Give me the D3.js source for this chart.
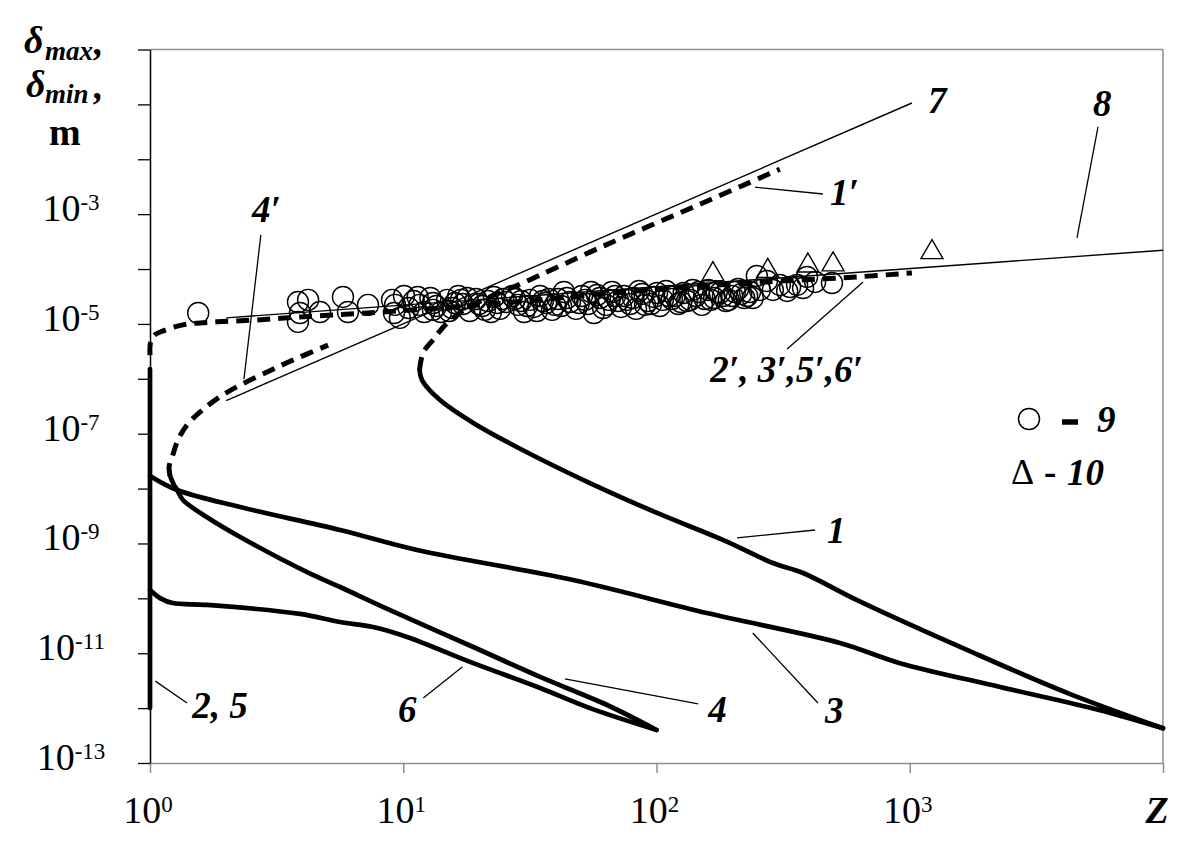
<!DOCTYPE html>
<html>
<head>
<meta charset="utf-8">
<script src="https://cdn.jsdelivr.net/npm/d3@7"></script>
<style>
  body { margin: 0; background: #fff; }
  svg { display: block; font-family: "Liberation Serif", "Times New Roman", serif; }
</style>
</head>
<body>
<svg id="chart" width="1200" height="855"></svg>
<script>
// --- data (Z, delta in m) ---
const xTicks = [1, 10, 100, 1000, 10000];
const yTicks = d3.range(-13, 1).map(e => Math.pow(10, e));
const yLabelExp = [-3, -5, -7, -9, -11, -13];

const line7Z = [2.0, 1020];
const line7D = [4.0e-7, 1.06e-1];
const line8Z = [2.0, 10000];
const line8D = [1.29e-5, 2.2e-4];

const curve1Z = [11.6, 11.86, 13.97, 18.9, 29.7, 54.6, 100.5, 183, 288, 379, 619, 1683, 4178, 10000];
const curve1D = [1.45e-6, 9.5e-7, 4.1e-7, 1.57e-7, 5.0e-8, 1.26e-8, 3.6e-9, 1.16e-9, 4.4e-10, 2.9e-10, 9.3e-11, 1.15e-11, 1.9e-12, 4.3e-13];
const curve1pZ = [11.6, 11.97, 13.1, 14.9, 17.85, 22.0, 29.7, 62.6, 150, 307];
const curve1pD = [1.45e-6, 2.96e-6, 5.1e-6, 1.04e-5, 1.95e-5, 3.1e-5, 5.6e-5, 2.7e-4, 1.55e-3, 6.6e-3];

const curve25Z = [1, 1];
const curve25D = [1e-12, 1.5e-6];

const curve3Z = [1.0, 1.28, 2.27, 5.63, 11.33, 46.8, 158, 530, 915, 2272, 5640, 10000];
const curve3D = [1.7e-8, 9.4e-9, 4.6e-9, 1.76e-9, 7.6e-10, 2.16e-10, 5.4e-11, 1.54e-11, 6.6e-12, 2.43e-12, 9.2e-13, 4.3e-13];

const curve4Z = [1.2, 1.24, 1.28, 1.35, 1.68, 2.27, 4.17, 5.63, 8.87, 18.9, 34.7, 63.8, 100];
const curve4D = [1.7e-8, 1.2e-8, 9.4e-9, 6.2e-9, 3.0e-9, 1.31e-9, 3.0e-10, 1.61e-10, 6.1e-11, 1.3e-11, 3.7e-12, 1.14e-12, 4.0e-13];
const curve4pZ = [1.2, 1.19, 1.23, 1.29, 1.40, 1.58, 1.86, 2.27, 2.90, 3.67, 5.05];
const curve4pD = [1.7e-8, 2.5e-8, 4.1e-8, 7.7e-8, 1.44e-7, 2.5e-7, 4.5e-7, 7.7e-7, 1.33e-6, 2.2e-6, 4.1e-6];

const curve6Z = [1.0, 1.1, 1.23, 1.68, 3.91, 5.63, 7.6, 10.35, 18.9, 34.7, 54.6, 100];
const curve6D = [1.42e-10, 1.0e-10, 8.2e-11, 7.6e-11, 5.2e-11, 3.7e-11, 3.0e-11, 1.98e-11, 6.6e-12, 2.33e-12, 1.0e-12, 4.0e-13];

const curve2pZ = [1.0, 1.005, 1.04, 1.12, 1.35, 1.84, 2.64, 3.9, 7.2, 15, 30, 60, 120, 250, 620, 1020];
const curve2pD = [2.7e-6, 4.6e-6, 6.2e-6, 7.4e-6, 9.6e-6, 1.09e-5, 1.18e-5, 1.34e-5, 1.58e-5, 2.0e-5, 2.6e-5, 3.5e-5, 4.5e-5, 5.7e-5, 7.2e-5, 8.5e-5];

// measured points, series 9 (circles) and 10 (triangles)
const circleZ = [1.55, 3.84, 4.21, 3.91, 4.69, 3.84, 5.78, 6.05, 7.26, 9.03, 9.19, 9.7, 10.07, 10.5, 11.0, 11.6, 12.1, 12.8, 13.5, 14.1,
  14.9, 15.6, 16.5, 17.2, 18.3, 19.4, 20.5, 21.6, 22.8, 24.1, 25.5, 26.9, 28.4, 30.0, 31.7, 32.8, 34.7, 36.6, 38.7, 40.8,
  43.1, 45.5, 48.1, 50.8, 53.6, 56.6, 59.8, 63.2, 66.7, 70.5, 74.4, 78.6, 83.0, 87.7, 92.6, 97.7, 103, 109, 115, 122,
  128, 136, 143, 151, 160, 169, 178, 188, 199, 210, 222, 234, 249, 273, 288, 337, 359, 379, 393, 493,
  9.28, 11.4, 13.1, 16.0, 17.9, 21.0, 23.5, 27.6, 30.8, 35.6, 39.7, 44.3, 52.2, 58.2, 64.9, 72.4, 80.8, 90.1, 100.5, 106,
  118, 132, 147, 164, 183, 204, 228, 256, 307, 423, 328,
  13.1, 15.2, 16.9, 19.9, 22.2, 24.8, 29.2, 33.7, 37.6, 42.0, 49.4, 55.1, 61.5, 68.6, 76.5, 85.3, 95.1, 112, 125, 139,
  155, 173, 193, 216, 240];
const circleD = [1.58e-5, 2.51e-5, 2.74e-5, 1.58e-5, 1.65e-5, 1.09e-5, 3.10e-5, 1.65e-5, 2.22e-5, 2.74e-5, 1.58e-5, 1.29e-5, 3.23e-5, 1.95e-5, 2.62e-5, 2.22e-5, 1.65e-5, 2.97e-5, 2.12e-5, 1.65e-5,
  2.74e-5, 1.95e-5, 3.23e-5, 2.31e-5, 1.72e-5, 2.85e-5, 2.12e-5, 2.62e-5, 3.10e-5, 1.88e-5, 2.51e-5, 3.23e-5, 2.22e-5, 1.65e-5, 2.74e-5, 2.04e-5, 3.23e-5, 2.41e-5, 1.80e-5, 2.85e-5,
  3.82e-5, 2.51e-5, 1.88e-5, 3.23e-5, 2.31e-5, 1.58e-5, 2.97e-5, 2.22e-5, 3.82e-5, 2.62e-5, 3.23e-5, 2.31e-5, 1.88e-5, 3.52e-5, 2.62e-5, 3.10e-5, 2.12e-5, 3.99e-5, 2.85e-5, 2.31e-5,
  3.66e-5, 2.74e-5, 3.23e-5, 2.22e-5, 4.16e-5, 2.97e-5, 3.66e-5, 2.62e-5, 3.23e-5, 4.33e-5, 2.97e-5, 3.82e-5, 7.48e-5, 6.07e-5, 4.16e-5, 4.71e-5, 5.13e-5, 4.52e-5, 7.18e-5, 5.57e-5,
  2.22e-5, 3.10e-5, 1.80e-5, 2.41e-5, 2.97e-5, 1.80e-5, 2.41e-5, 2.85e-5, 2.12e-5, 2.62e-5, 2.22e-5, 2.97e-5, 2.74e-5, 3.37e-5, 2.74e-5, 2.04e-5, 2.97e-5, 2.22e-5, 3.66e-5, 2.74e-5,
  3.23e-5, 2.62e-5, 3.82e-5, 2.74e-5, 3.23e-5, 3.82e-5, 3.23e-5, 4.16e-5, 5.13e-5, 5.82e-5, 3.99e-5,
  2.41e-5, 1.72e-5, 2.74e-5, 2.31e-5, 1.65e-5, 2.85e-5, 2.62e-5, 1.72e-5, 2.85e-5, 2.12e-5, 2.41e-5, 3.82e-5, 1.95e-5, 3.23e-5, 2.74e-5, 3.99e-5, 2.31e-5, 3.23e-5, 2.51e-5, 4.16e-5,
  2.85e-5, 3.82e-5, 2.74e-5, 3.52e-5, 2.97e-5];
const triZ = [167, 275, 396, 498, 1224];
const triD = [8.0e-5, 9.2e-5, 1.15e-4, 1.21e-4, 2.02e-4];

// curve labels and their leader lines, in data coordinates
const labelText = ["4\u2032", "7", "8", "1\u2032", "2\u2032, 3\u2032,5\u2032,6\u2032", "1", "3", "4", "6", "2, 5"];
const labelZ = [2.53, 1180, 5290, 484, 163, 471, 463, 160, 9.54, 1.47];
const labelD = [7.2e-4, 7.0e-2, 6.15e-2, 1.47e-3, 8.7e-7, 1.02e-9, 5.4e-13, 5.6e-13, 5.6e-13, 6.6e-13];
const leaders = [
  [[2.74, 4.2e-4], [2.35, 9.9e-7]],
  [[245, 3.1e-3], [454, 2.33e-3]],
  [[5538, 3.9e-2], [4575, 3.7e-4]],
  [[328, 3.5e-6], [654, 5.8e-5]],
  [[208, 1.26e-9], [423, 1.76e-9]],
  [[240, 2.34e-11], [434, 1.24e-12]],
  [[43.5, 3.4e-12], [146, 1.19e-12]],
  [[12.0, 1.53e-12], [17.1, 5.6e-12]],
  [[1.05, 3.1e-12], [1.40, 1.24e-12]]
];

// --- drawing ---
const svg = d3.select("#chart");
const frameColor = "#8e8e8e";

const x = d3.scaleLog().domain([1, 1e4]).range([150, 1163]);
const y = d3.scaleLog().domain([1e-13, 1]).range([763, 49.5]);

// top and right frame
svg.append("line")
    .attr("x1", x(1)).attr("x2", x(1e4))
    .attr("y1", y(1)).attr("y2", y(1))
    .attr("stroke", frameColor).attr("stroke-width", 1.5);
svg.append("line")
    .attr("x1", x(1e4)).attr("x2", x(1e4))
    .attr("y1", y(1)).attr("y2", y(1e-13))
    .attr("stroke", frameColor).attr("stroke-width", 1.5);

let xAxis = d3.axisBottom(x).tickValues(xTicks).tickSize(10).tickSizeOuter(0).tickFormat("");
let gx = svg.append("g").attr("transform", "translate(0," + y(1e-13) + ")").call(xAxis);
gx.select(".domain").attr("stroke", frameColor).attr("stroke-width", 1.5);
gx.selectAll(".tick line").attr("stroke", frameColor).attr("stroke-width", 1.5);

let yAxis = d3.axisLeft(y).tickValues(yTicks).tickSize(12).tickSizeOuter(0).tickFormat("");
let gy = svg.append("g").attr("transform", "translate(" + x(1) + ",0)").call(yAxis);
gy.select(".domain").attr("stroke", "#000").attr("stroke-width", 1.5);
gy.selectAll(".tick line").attr("stroke", "#000").attr("stroke-width", 1.3);

// tick labels 10^k
let xLab = svg.selectAll(".xlab")
    .data(xTicks.slice(0, 4))
    .enter().append("text")
    .attr("class", "xlab")
    .attr("x", d => x(d) - 2)
    .attr("y", 823)
    .style("text-anchor", "middle");
xLab.append("tspan").attr("font-size", 38).text("10");
xLab.append("tspan").attr("font-size", 23).attr("dy", -11).text(d => Math.round(Math.log10(d)));

svg.append("text")
    .attr("x", x(1e4) - 6).attr("y", 823)
    .style("text-anchor", "middle")
    .attr("font-size", 38).attr("font-weight", "bold").attr("font-style", "italic")
    .text("Z");

let yLab = svg.selectAll(".ylab")
    .data(yLabelExp)
    .enter().append("text")
    .attr("class", "ylab")
    .attr("x", 71)
    .attr("y", d => y(Math.pow(10, d)) + 7)
    .style("text-anchor", "middle");
yLab.append("tspan").attr("font-size", 38).text("10");
yLab.append("tspan").attr("font-size", 23).attr("dy", -11).text(d => "-" + Math.abs(d));

// y title
let title = svg.append("g").attr("font-weight", "bold");
[["max", 53, 60], ["min", 97, 103]].forEach((t, i) => {
    title.append("text").attr("x", 24 + i * 2).attr("y", t[1])
        .attr("font-size", 38).attr("font-style", "italic").text("\u03B4");
    title.append("text").attr("x", 45).attr("y", t[2])
        .attr("font-size", 27).attr("font-style", "italic").text(t[0]);
    title.append("text").attr("x", 94).attr("y", t[1] + 2)
        .attr("font-size", 38).attr("font-style", "italic").text(",");
});
title.append("text").attr("x", 49).attr("y", 145).attr("font-size", 38).text("m");

// lines
const lineGen = d3.line()
    .x(d => x(d[0]))
    .y(d => y(d[1]))
    .curve(d3.curveCatmullRom.alpha(0.5));

const thin = [[line7Z, line7D], [line8Z, line8D]];
svg.selectAll(".thin")
    .data(thin)
    .enter().append("path")
    .attr("class", "thin")
    .attr("d", d => lineGen(d3.zip(d[0], d[1])))
    .attr("fill", "none").attr("stroke", "#000").attr("stroke-width", 1.4);

const solid = [[curve1Z, curve1D], [curve3Z, curve3D], [curve4Z, curve4D], [curve6Z, curve6D], [curve25Z, curve25D]];
svg.selectAll(".solid")
    .data(solid)
    .enter().append("path")
    .attr("class", "solid")
    .attr("d", d => lineGen(d3.zip(d[0], d[1])))
    .attr("fill", "none").attr("stroke", "#000").attr("stroke-width", 4.7)
    .attr("stroke-linejoin", "round").attr("stroke-linecap", "round");

const dashed = [[curve1pZ, curve1pD], [curve4pZ, curve4pD], [curve2pZ, curve2pD]];
svg.selectAll(".dashed")
    .data(dashed)
    .enter().append("path")
    .attr("class", "dashed")
    .attr("d", d => lineGen(d3.zip(d[0], d[1])))
    .attr("fill", "none").attr("stroke", "#000").attr("stroke-width", 5)
    .attr("stroke-dasharray", "13,8");

// measured points
svg.selectAll(".pt9")
    .data(d3.zip(circleZ, circleD))
    .enter().append("circle")
    .attr("class", "pt9")
    .attr("cx", d => x(d[0]))
    .attr("cy", d => y(d[1]))
    .attr("r", 10.5)
    .attr("fill", "none").attr("stroke", "#000").attr("stroke-width", 1.4);

svg.selectAll(".pt10")
    .data(d3.zip(triZ, triD))
    .enter().append("path")
    .attr("class", "pt10")
    .attr("transform", d => "translate(" + x(d[0]) + "," + y(d[1]) + ")")
    .attr("d", d3.symbol(d3.symbolTriangle, 210))
    .attr("fill", "none").attr("stroke", "#000").attr("stroke-width", 1.4);

// leaders and curve labels
svg.selectAll(".leader")
    .data(leaders)
    .enter().append("line")
    .attr("class", "leader")
    .attr("x1", d => x(d[0][0])).attr("y1", d => y(d[0][1]))
    .attr("x2", d => x(d[1][0])).attr("y2", d => y(d[1][1]))
    .attr("stroke", "#000").attr("stroke-width", 1.3);

svg.selectAll(".clab")
    .data(labelText)
    .enter().append("text")
    .attr("class", "clab")
    .attr("x", (d, i) => x(labelZ[i]))
    .attr("y", (d, i) => y(labelD[i]))
    .attr("font-size", 37).attr("font-weight", "bold").attr("font-style", "italic")
    .text(d => d);

// legend
let legend = svg.append("g").attr("transform", "translate(1029,419)");
legend.append("circle").attr("r", 10.5)
    .attr("fill", "none").attr("stroke", "#000").attr("stroke-width", 1.5);
legend.append("line").attr("x1", 33).attr("x2", 49).attr("y1", 3).attr("y2", 3)
    .attr("stroke", "#000").attr("stroke-width", 5.5);
legend.append("text").attr("x", 68).attr("y", 13)
    .attr("font-size", 37).attr("font-weight", "bold").attr("font-style", "italic").text("9");
legend.append("text").attr("x", -18).attr("y", 65)
    .attr("font-size", 36).text("\u0394");
legend.append("text").attr("x", 15).attr("y", 65)
    .attr("font-size", 37).attr("font-weight", "bold").text("-");
legend.append("text").attr("x", 38).attr("y", 66)
    .attr("font-size", 37).attr("font-weight", "bold").attr("font-style", "italic").text("10");
</script>
</body>
</html>
